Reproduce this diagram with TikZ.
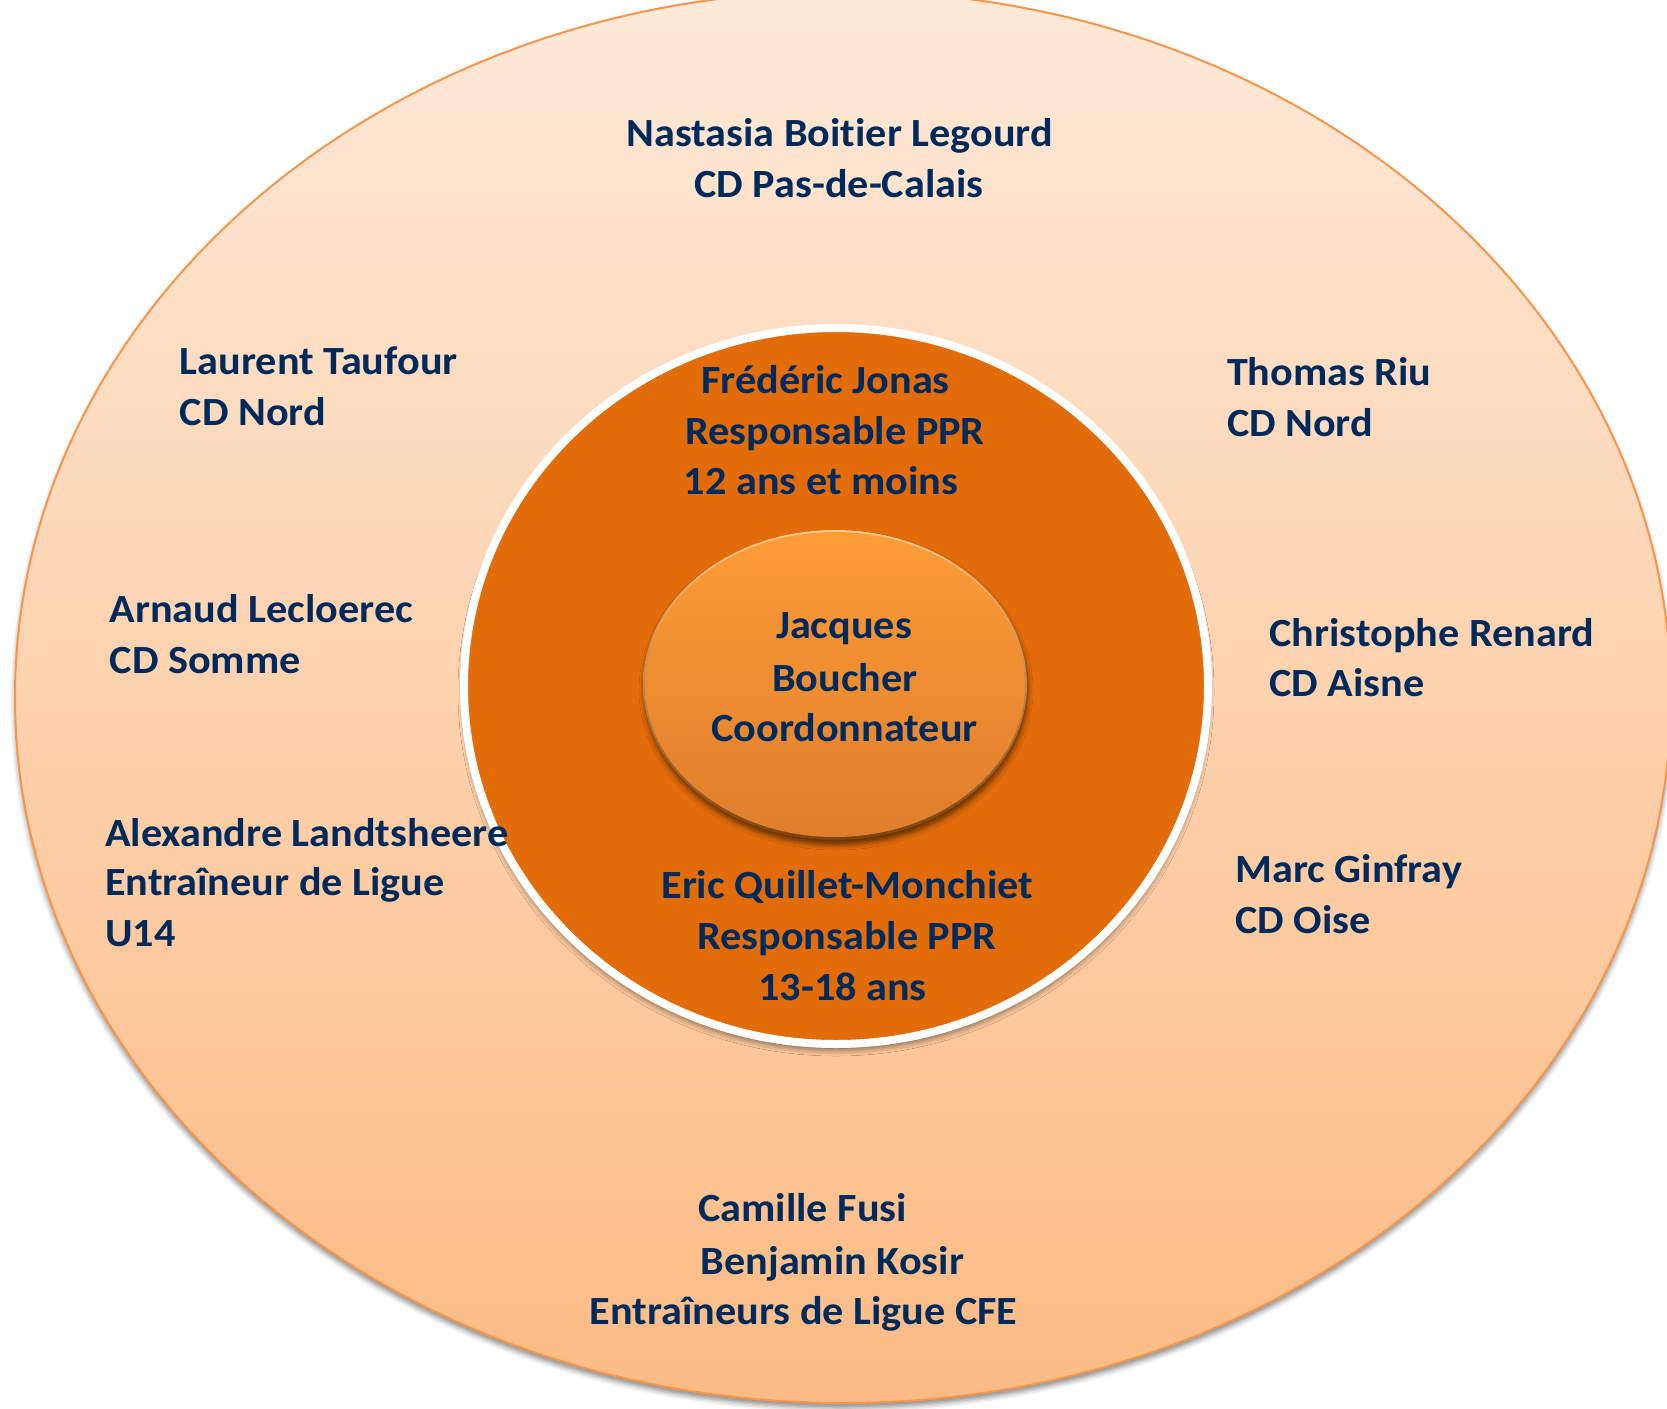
\documentclass[tikz,border=0pt]{standalone}
\usepackage{fontspec}
\setmainfont{Carlito}[FakeStretch=1.055, Ligatures={NoCommon}]
\usetikzlibrary{shadows.blur}
\definecolor{navy}{HTML}{002A5C}
\definecolor{outerTop}{HTML}{FEE9D8}
\definecolor{outerBot}{HTML}{FCBB84}
\definecolor{outerLine}{HTML}{F7954A}
\definecolor{innerOrange}{HTML}{E36C0A}
\definecolor{coreTop}{HTML}{FD9C37}
\definecolor{coreBot}{HTML}{DF7E2C}
\definecolor{rimTop}{HTML}{FFCB8A}
\definecolor{rimBot}{HTML}{7E4210}
\begin{document}
\begin{tikzpicture}[x=1pt,y=1pt,
  lbl/.style={inner sep=0pt, text=navy, font=\fontsize{40}{50}\selectfont\bfseries},
  lblc/.style={lbl, anchor=base},
  lbll/.style={lbl, anchor=base west}]
\useasboundingbox (0,0) rectangle (1667,-1408);
\clip (0,0) rectangle (1667,-1408);
% outer ellipse
\path[blur shadow={shadow xshift=0pt, shadow yshift=-5pt, shadow blur radius=5pt, shadow opacity=45},
      top color=outerTop, bottom color=outerBot, draw=outerLine, line width=2]
  (843,-697) ellipse [x radius=828, y radius=706];
% inner circle
\path[blur shadow={shadow xshift=0pt, shadow yshift=-6pt, shadow blur radius=6pt, shadow opacity=50},
      fill=innerOrange, draw=white, line width=8]
  (836,-686) ellipse [x radius=372, y radius=358];
% central ellipse (bevel rim + body)
\path[blur shadow={shadow xshift=1pt, shadow yshift=-5pt, shadow blur radius=5pt, shadow opacity=55},
      top color=rimTop, bottom color=rimBot]
  (835,-685) ellipse [x radius=192, y radius=155];
\path[top color=coreTop, bottom color=coreBot]
  (835,-684.5) ellipse [x radius=190, y radius=152.5];
% texts
\node[lblc] (n1a) at (839.5,-146) {Nastasia Boitier Legourd};
\node[lblc] (n1b) at (839,-197) {CD Pas-de-Calais};
\node[lbll] (n2a) at (179.7,-374.5) {Laurent Taufour};
\node[lbll] (n2b) at (179.7,-425.5) {CD Nord};
\node[lbll] (n3a) at (1226.8,-385) {Thomas Riu};
\node[lbll] (n3b) at (1226.8,-436) {CD Nord};
\node[lblc] (n4a) at (825.5,-393.6) {Frédéric Jonas};
\node[lblc] (n4b) at (835,-444.6) {Responsable PPR};
\node[lblc] (n4c) at (821,-494.6) {12 ans et moins};
\node[lblc] (n5a) at (844,-638) {Jacques};
\node[lblc] (n5b) at (845,-691) {Boucher};
\node[lblc] (n5c) at (844.5,-741) {Coordonnateur};
\node[lbll] (n6a) at (109.5,-622) {Arnaud Lecloerec};
\node[lbll] (n6b) at (109.5,-673) {CD Somme};
\node[lbll] (n7a) at (1269.3,-646.6) {Christophe Renard};
\node[lbll] (n7b) at (1269.3,-696.6) {CD Aisne};
\node[lbll] (n8a) at (105,-846) {Alexandre Landtsheere};
\node[lbll] (n8b) at (105,-895.5) {Entraîneur de Ligue};
\node[lbll] (n8c) at (105,-946.7) {U14};
\node[lbll] (n9a) at (1235.3,-882.6) {Marc Ginfray};
\node[lbll] (n9b) at (1235.3,-933.6) {CD Oise};
\node[lblc] (n10a) at (847.3,-898.6) {Eric Quillet-Monchiet};
\node[lblc] (n10b) at (846.8,-949.6) {Responsable PPR};
\node[lblc] (n10c) at (842.5,-1000) {13-18 ans};
\node[lblc] (n11a) at (802.6,-1221.7) {Camille Fusi};
\node[lblc] (n11b) at (832.4,-1274.5) {Benjamin Kosir};
\node[lblc] (n11c) at (803.7,-1324.5) {Entraîneurs de Ligue CFE};
\end{tikzpicture}
\end{document}
